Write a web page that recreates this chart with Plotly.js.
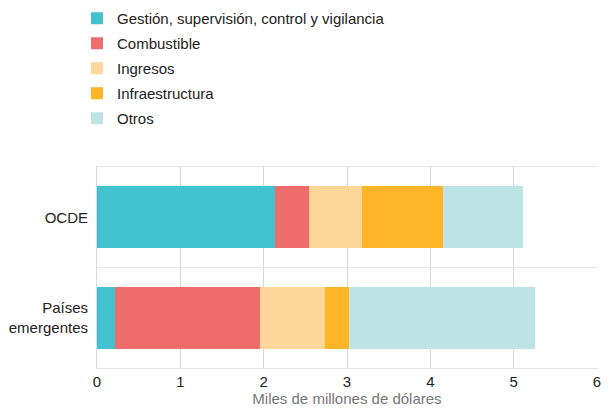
<!DOCTYPE html>
<html>
<head>
<meta charset="utf-8">
<script src="https://cdn.plot.ly/plotly-3.0.1.min.js"></script>
<style>html,body{margin:0;padding:0;background:#fff;}#chart{width:612px;height:408px;}</style>
</head>
<body>
<div id="chart"></div>
<script>
const categories = ["OCDE", "Países<br>emergentes"];
const seriesNames = ["Gestión, supervisión, control y vigilancia", "Combustible", "Ingresos", "Infraestructura", "Otros"];
const gestion = [2.13, 0.22];
const combustible = [0.41, 1.74];
const ingresos = [0.64, 0.78];
const infraestructura = [0.97, 0.28];
const otros = [0.96, 2.24];
const xTickLabels = ["0", "1", "2", "3", "4", "5", "6"];
const xTickValues = [0, 1, 2, 3, 4, 5, 6];

const colors = ["#42C2CF", "#EF6C6C", "#FED699", "#FDB427", "#BDE4E4"];
const values = [gestion, combustible, ingresos, infraestructura, otros];

const traces = values.map((v, i) => ({
  type: "bar",
  orientation: "h",
  name: seriesNames[i],
  x: v,
  y: categories,
  legendgroup: "g" + i,
  marker: {color: colors[i], line: {width: 0}},
  hoverinfo: "x+name"
}));

const FONT = "'Liberation Sans', Arial, sans-serif";

const layout = {
  width: 612,
  height: 408,
  barmode: "stack",
  bargap: 0.38,
  paper_bgcolor: "#ffffff",
  plot_bgcolor: "#ffffff",
  margin: {l: 97, r: 15, t: 167, b: 40, autoexpand: false},
  font: {family: FONT, size: 15, color: "#222222"},
  showlegend: true,
  legend: {
    orientation: "v",
    traceorder: "grouped",
    tracegroupgap: 2.5,
    xref: "container",
    yref: "container",
    x: 77 / 612,
    y: 1 - 2 / 408,
    xanchor: "left",
    yanchor: "top",
    font: {family: FONT, size: 15, color: "#222222"},
    bgcolor: "rgba(0,0,0,0)"
  },
  xaxis: {
    range: [0, 6],
    tickvals: xTickValues,
    ticktext: xTickLabels,
    showgrid: true,
    gridcolor: "#d9d9d9",
    gridwidth: 1,
    zeroline: false,
    showline: true,
    mirror: true,
    linecolor: "#e6e6e6",
    ticks: "",
    ticklabelstandoff: 0,
    tickfont: {family: FONT, size: 15, color: "#222222"},
    title: {text: "Miles de millones de dólares", font: {family: FONT, size: 15, color: "#777777"}, standoff: 2},
    fixedrange: true
  },
  yaxis: {
    type: "category",
    categoryorder: "array",
    categoryarray: categories,
    autorange: "reversed",
    tickson: "boundaries",
    showgrid: true,
    gridcolor: "#e6e6e6",
    gridwidth: 1,
    zeroline: false,
    showline: true,
    linecolor: "#d6dae8",
    ticks: "",
    ticklabelstandoff: 5,
    tickfont: {family: FONT, size: 15, color: "#222222"},
    fixedrange: true
  }
};

Plotly.newPlot("chart", traces, layout, {displayModeBar: false, staticPlot: true});
</script>
</body>
</html>
